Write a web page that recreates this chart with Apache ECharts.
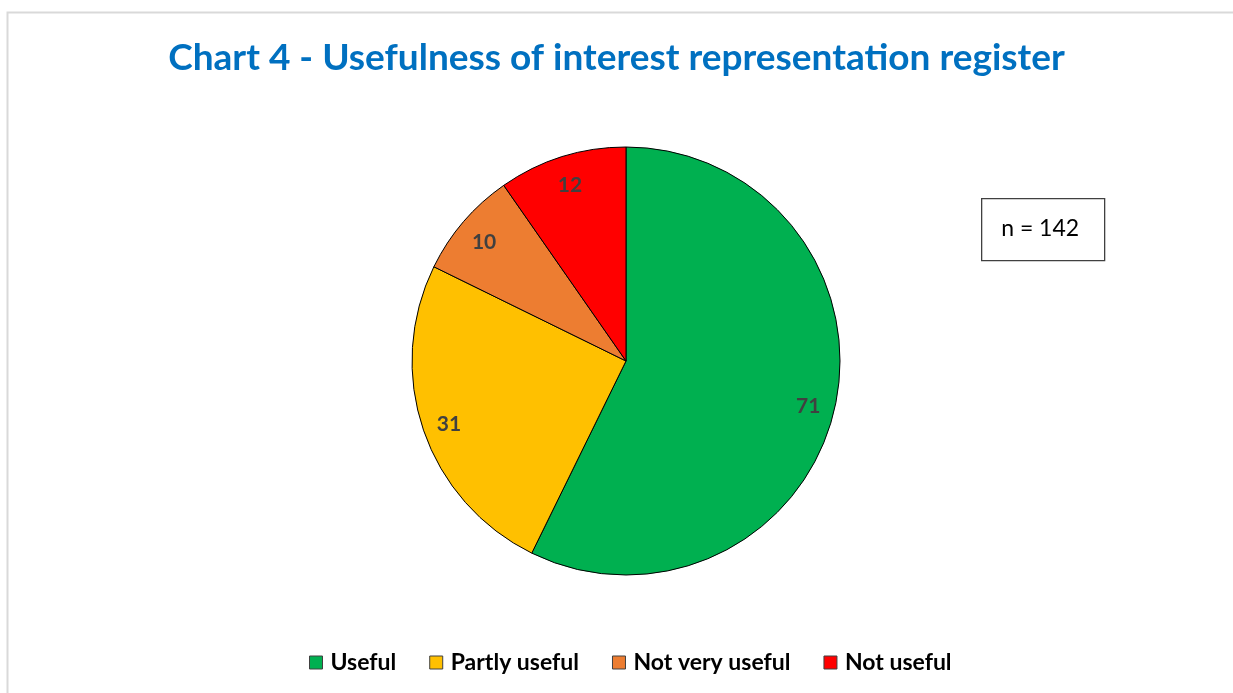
<!DOCTYPE html>
<html>
<head>
<meta charset="utf-8">
<script src="https://cdn.jsdelivr.net/npm/echarts@6/dist/echarts.min.js"></script>
<style>
  html, body { margin: 0; padding: 0; background: #fff; }
  #chart { width: 1233px; height: 693px; }
</style>
</head>
<body>
<div id="chart"></div>
<script>
// Survey answers on the usefulness of the interest representation register
const categories = ['Useful', 'Partly useful', 'Not very useful', 'Not useful'];
const counts = [71, 31, 10, 12];
const colors = ['#00B050', '#FFC000', '#ED7D31', '#FF0000'];
const sampleNote = 'n = 142';

const FONT = 'Lato, "Noto Sans", sans-serif';

const pieData = categories.map((name, i) => ({
  name,
  value: counts[i],
  itemStyle: { color: colors[i] }
}));

const chart = echarts.init(document.getElementById('chart'), null, { renderer: 'canvas' });

chart.setOption({
  backgroundColor: '#ffffff',
  animation: false,
  title: {
    text: 'Chart 4 - Usefulness of interest representation register',
    left: 'center',
    top: 35,
    textStyle: {
      fontFamily: FONT,
      fontWeight: 'bold',
      fontSize: 37,
      color: '#0070C0'
    }
  },
  legend: {
    data: categories,
    bottom: 14,
    left: 304,
    itemWidth: 13,
    itemHeight: 13,
    itemGap: 33,
    icon: 'rect',
    itemStyle: { borderColor: '#404040', borderWidth: 1 },
    textStyle: {
      fontFamily: FONT,
      fontWeight: 'bold',
      fontSize: 23,
      color: '#000000',
      padding: [0, 0, 0, 3]
    }
  },
  graphic: [
    {
      type: 'rect',
      silent: true,
      shape: { x: 7.5, y: 12.5, width: 1260, height: 720 },
      style: { fill: 'none', stroke: '#d9d9d9', lineWidth: 2 }
    },
    {
      type: 'group',
      left: 981,
      top: 198,
      children: [
        {
          type: 'rect',
          shape: { x: 0.5, y: 0.5, width: 123, height: 62 },
          style: { fill: '#ffffff', stroke: '#404040', lineWidth: 1.3 }
        },
        {
          type: 'text',
          x: 59,
          y: 30,
          style: {
            text: sampleNote,
            fontFamily: FONT,
            fontSize: 23,
            fill: '#000000',
            align: 'center',
            verticalAlign: 'middle'
          }
        }
      ]
    }
  ],
  series: [
    {
      name: 'Usefulness',
      type: 'pie',
      center: [626, 361],
      radius: [0, 214],
      startAngle: 90,
      clockwise: true,
      data: pieData,
      label: { show: false },
      labelLine: { show: false },
      itemStyle: { borderColor: '#000000', borderWidth: 1 },
      emphasis: { disabled: true }
    },
    {
      // ring used only to place the value labels near the rim
      name: 'Usefulness labels',
      type: 'pie',
      center: [626, 364],
      radius: [154, 214],
      startAngle: 90,
      clockwise: true,
      silent: true,
      data: pieData.map(d => ({ name: d.name, value: d.value })),
      itemStyle: { color: 'rgba(0,0,0,0)', borderWidth: 0 },
      label: {
        show: true,
        position: 'inside',
        formatter: '{c}',
        fontFamily: FONT,
        fontWeight: 'bold',
        fontSize: 21,
        color: '#404040'
      },
      labelLine: { show: false },
      emphasis: { disabled: true },
      legendHoverLink: false
    }
  ]
});
</script>
</body>
</html>
